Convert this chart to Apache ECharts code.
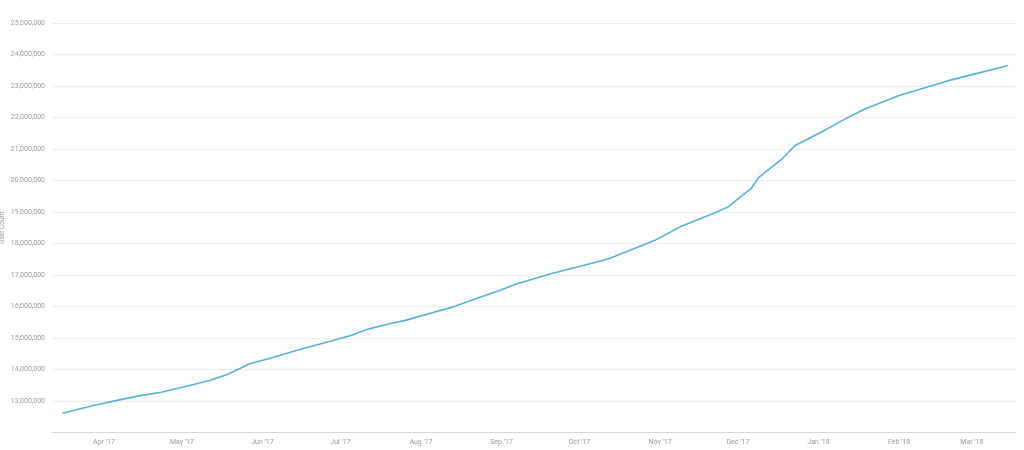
<!DOCTYPE html>
<html>
<head>
<meta charset="utf-8">
<script src="https://cdn.jsdelivr.net/npm/echarts@6/dist/echarts.min.js"></script>
<style>
html,body{margin:0;padding:0;background:#fff;}
#chart{width:1024px;height:450px;}
</style>
</head>
<body>
<div id="chart"></div>
<script>
var dates = ['2017-03-16','2017-03-26','2017-04-06','2017-04-15','2017-04-23','2017-05-04','2017-05-12','2017-05-19','2017-05-27','2017-06-04','2017-06-14','2017-06-26','2017-07-05','2017-07-12','2017-07-20','2017-07-26','2017-08-04','2017-08-13','2017-08-24','2017-09-01','2017-09-07','2017-09-20','2017-10-01','2017-10-12','2017-10-21','2017-10-30','2017-11-09','2017-11-21','2017-11-27','2017-12-01','2017-12-06','2017-12-09','2017-12-18','2017-12-23','2018-01-02','2018-01-10','2018-01-19','2018-02-01','2018-02-10','2018-02-20','2018-03-03','2018-03-15'];
var userCount = [12610000,12820000,13020000,13170000,13280000,13490000,13660000,13860000,14180000,14360000,14600000,14870000,15080000,15290000,15450000,15560000,15770000,15980000,16300000,16530000,16720000,17040000,17270000,17510000,17800000,18100000,18540000,18940000,19150000,19420000,19740000,20100000,20690000,21110000,21530000,21900000,22280000,22700000,22920000,23170000,23400000,23650000];
var monthNames = ['Jan','Feb','Mar','Apr','May','Jun','Jul','Aug','Sep','Oct','Nov','Dec'];
var yAxisTitle = 'User Count';

function toTime(s){ var p = s.split('-'); return new Date(+p[0], +p[1]-1, +p[2]).getTime(); }
var seriesData = dates.map(function(d,i){ return [toTime(d), userCount[i]]; });
var DAY = 86400000;
var chart = echarts.init(document.getElementById('chart'));
chart.setOption({
  animation: false,
  backgroundColor: '#fff',
  grid: {left: 52, right: 8, top: 23, bottom: 17.5, containLabel: false, outerBoundsMode: 'none'},
  xAxis: {
    type: 'time',
    min: toTime('2017-03-12'),
    max: toTime('2018-03-18'),
    minInterval: 28 * DAY,
    maxInterval: 31 * DAY,
    splitNumber: 12,
    axisLine: {lineStyle: {color: '#d8d8d8', width: 1}},
    axisTick: {show: false},
    splitLine: {show: false},
    axisLabel: {
      color: '#999',
      fontFamily: 'Roboto',
      fontSize: 7,
      margin: 6,
      hideOverlap: false,
      formatter: function(v){
        var d = new Date(v);
        if (d.getDate() !== 1) return '';
        return monthNames[d.getMonth()] + " '" + String(d.getFullYear()).slice(2);
      }
    }
  },
  yAxis: {
    type: 'value',
    min: 12000000,
    max: 25000000,
    interval: 1000000,
    name: yAxisTitle,
    nameLocation: 'middle',
    nameRotate: 90,
    nameGap: 46,
    nameMoveOverlap: false,
    nameTextStyle: {color: '#999', fontSize: 6.5, fontFamily: 'Roboto'},
    axisLine: {show: false},
    axisTick: {show: false},
    splitLine: {lineStyle: {color: '#ebebeb', width: 1}},
    axisLabel: {
      color: '#999',
      fontFamily: 'Roboto',
      fontSize: 7,
      margin: 7,
      formatter: function(v){
        if (v === 12000000) return '';
        return String(v).replace(/\B(?=(\d{3})+(?!\d))/g, ',');
      }
    }
  },
  series: [{
    type: 'line',
    data: seriesData,
    showSymbol: false,
    smooth: false,
    lineStyle: {color: '#55b4d3', width: 1.6},
    itemStyle: {color: '#55b4d3'}
  }]
});
</script>
</body>
</html>
